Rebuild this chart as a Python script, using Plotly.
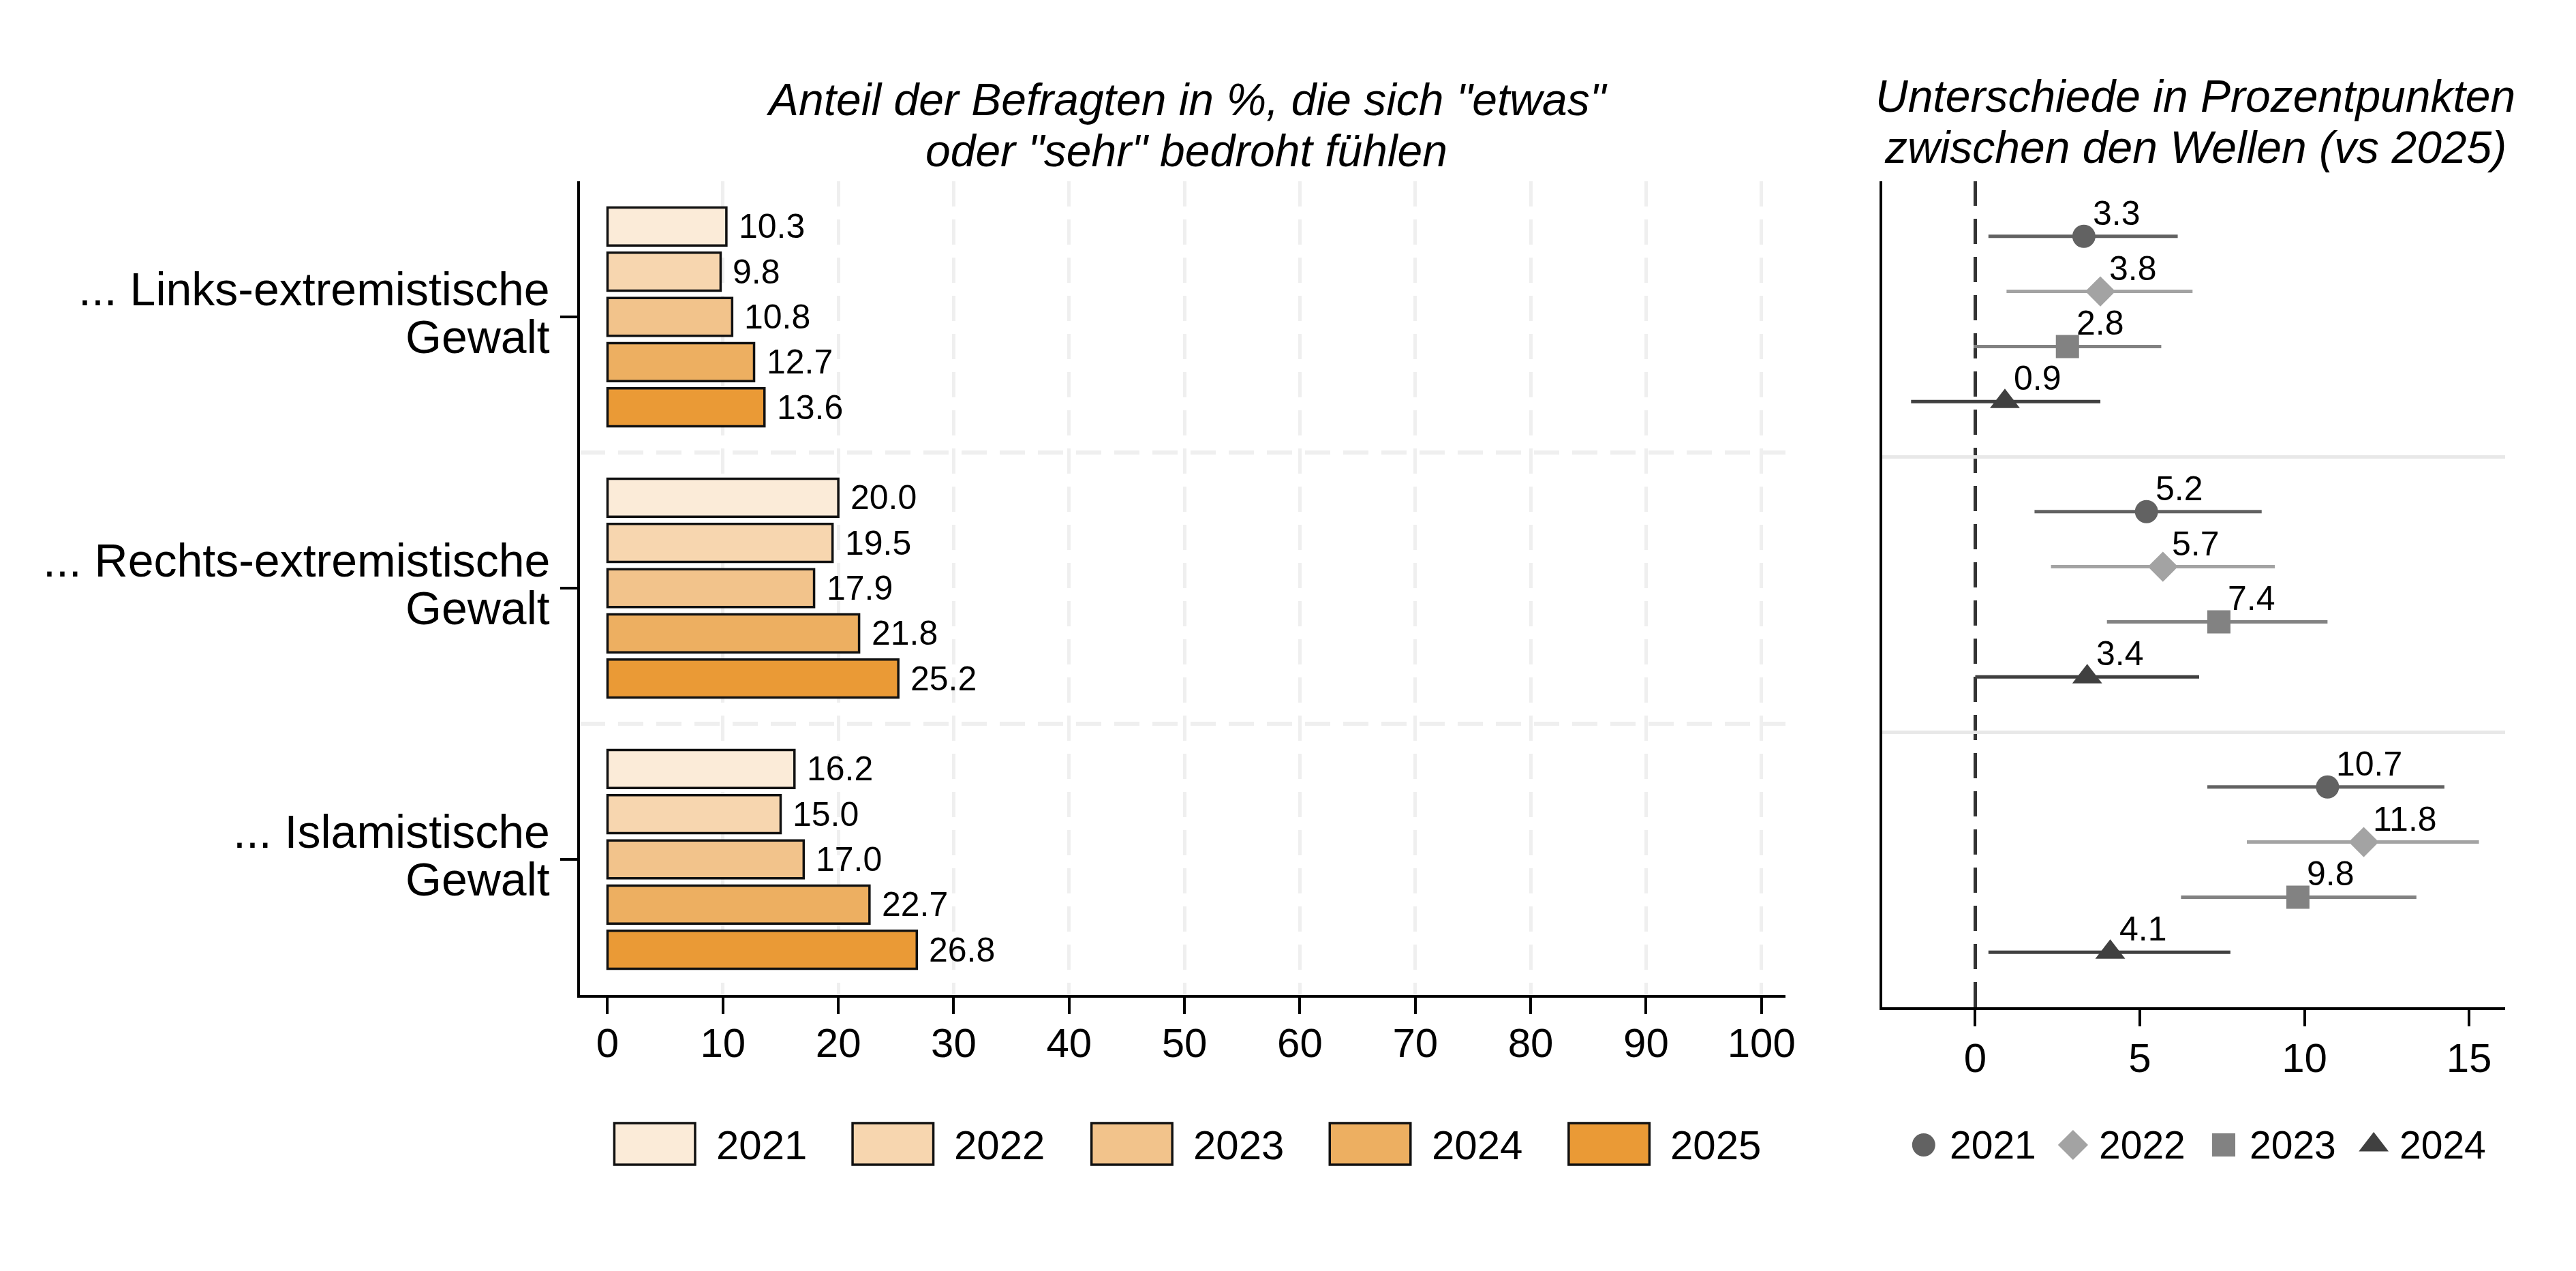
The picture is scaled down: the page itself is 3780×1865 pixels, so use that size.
import plotly.graph_objects as go
import numpy as np

W, H = 3780, 1865
OFF_Y = 8  # vertical page offset


def px(x):
    return x / W


def py(y):
    return 1 - (y - OFF_Y) / H


# ---------------- data ----------------
category_line1 = ["... Links-extremistische", "... Rechts-extremistische", "... Islamistische"]
category_line2 = ["Gewalt", "Gewalt", "Gewalt"]

bar_years = ["2021", "2022", "2023", "2024", "2025"]
share_2021 = [10.3, 20.0, 16.2]
share_2022 = [9.8, 19.5, 15.0]
share_2023 = [10.8, 17.9, 17.0]
share_2024 = [12.7, 21.8, 22.7]
share_2025 = [13.6, 25.2, 26.8]
shares = [share_2021, share_2022, share_2023, share_2024, share_2025]
bar_colors = ["#FBEBD8", "#F7D6AF", "#F2C38B", "#EDAF61", "#EA9A36"]

diff_years = ["2021", "2022", "2023", "2024"]
diff_2021 = [3.3, 5.2, 10.7]
lo_2021 = [0.4, 1.8, 7.05]
hi_2021 = [6.15, 8.7, 14.25]
diff_2022 = [3.8, 5.7, 11.8]
lo_2022 = [0.95, 2.3, 8.25]
hi_2022 = [6.6, 9.1, 15.3]
diff_2023 = [2.8, 7.4, 9.8]
lo_2023 = [-0.05, 4.0, 6.25]
hi_2023 = [5.65, 10.7, 13.4]
diff_2024 = [0.9, 3.4, 4.1]
lo_2024 = [-1.95, 0.0, 0.4]
hi_2024 = [3.8, 6.8, 7.75]
diffs = [diff_2021, diff_2022, diff_2023, diff_2024]
los = [lo_2021, lo_2022, lo_2023, lo_2024]
his = [hi_2021, hi_2022, hi_2023, hi_2024]
diff_symbols = ["circle", "diamond", "square", "triangle-up"]
diff_colors = ["#626262", "#A3A3A3", "#828282", "#404040"]
diff_sizes = [34, 34, 34, 38]

x_ticks_left = list(range(0, 101, 10))
x_ticks_right = [0, 5, 10, 15]

FONT = "Liberation Sans, Arial, Helvetica, sans-serif"

fig = go.Figure()

n_cat = len(category_line1)
slots_left = len(bar_years) + 1      # 5 bars + gap
slots_right = len(diff_years) + 1    # 4 points + gap
annotations = []

# ---------------- left: bars ----------------
for k, (yr, vals, col) in enumerate(zip(bar_years, shares, bar_colors)):
    pos = [slots_left * g + 1 + k for g in range(n_cat)]
    fig.add_trace(go.Bar(
        x=vals, y=pos, orientation="h", name=yr,
        marker=dict(color=col, line=dict(color="#111111", width=3.5)),
        width=0.84, xaxis="x", yaxis="y", showlegend=False,
    ))
    for v, p in zip(vals, pos):
        annotations.append(dict(
            x=v, y=p, xref="x", yref="y", text=f"{v:.1f}", showarrow=False,
            xanchor="left", yanchor="middle", xshift=16,
            font=dict(family=FONT, size=50, color="black"),
        ))

# ---------------- right: differences with CI ----------------
for k, (yr, d, lo, hi, sym, col, sz) in enumerate(
        zip(diff_years, diffs, los, his, diff_symbols, diff_colors, diff_sizes)):
    pos = [slots_right * g + 1 + k for g in range(n_cat)]
    d_arr, lo_arr, hi_arr = np.array(d), np.array(lo), np.array(hi)
    fig.add_trace(go.Scatter(
        x=d, y=pos, mode="markers", name=yr,
        marker=dict(symbol=sym, color=col, size=sz, opacity=1, line=dict(width=0)),
        error_x=dict(type="data", symmetric=False, array=hi_arr - d_arr,
                     arrayminus=d_arr - lo_arr, thickness=5, width=0, color=col),
        xaxis="x2", yaxis="y2", showlegend=False, cliponaxis=False,
    ))
    for v, p in zip(d, pos):
        annotations.append(dict(
            x=v, y=p, xref="x2", yref="y2", text=f"{v:.1f}", showarrow=False,
            xanchor="left", yanchor="middle", xshift=11, yshift=34,
            font=dict(family=FONT, size=50, color="black"),
        ))

# ---------------- category labels ----------------
for g in range(n_cat):
    ytick = slots_left * g + slots_left / 2
    annotations.append(dict(
        x=px(804), y=ytick, xref="paper", yref="y", text=category_line1[g],
        showarrow=False, xanchor="right", yanchor="middle", yshift=41,
        font=dict(family=FONT, size=68, color="black"),
    ))
    annotations.append(dict(
        x=px(804), y=ytick, xref="paper", yref="y", text=category_line2[g],
        showarrow=False, xanchor="right", yanchor="middle", yshift=-29,
        font=dict(family=FONT, size=68, color="black"),
    ))

# ---------------- titles ----------------
title_font = dict(family=FONT, size=66, color="black")
for txt, xc, yc in [
    ('Anteil der Befragten in %, die sich "etwas"', 1740, 146),
    ('oder "sehr" bedroht fühlen', 1740, 221),
    ("Unterschiede in Prozentpunkten", 3226, 141),
    ("zwischen den Wellen (vs 2025)", 3226, 216),
]:
    annotations.append(dict(
        x=px(xc), y=py(yc), xref="paper", yref="paper", text=f"<i>{txt}</i>",
        showarrow=False, xanchor="center", yanchor="middle", font=title_font,
    ))

# ---------------- left legend (custom swatches) ----------------
shapes = []
sw_left = [897, 1248, 1600, 1951, 2303]
for yr, col, xl in zip(bar_years, bar_colors, sw_left):
    shapes.append(dict(
        type="rect", xref="paper", yref="paper",
        x0=px(xl), x1=px(xl + 119), y0=py(1709), y1=py(1648),
        fillcolor=col, line=dict(color="#111111", width=3.5),
    ))
    annotations.append(dict(
        x=px(xl + 148), y=py(1680), xref="paper", yref="paper", text=yr,
        showarrow=False, xanchor="left", yanchor="middle",
        font=dict(family=FONT, size=60, color="black"),
    ))

# ---------------- right legend (markers on a pixel overlay axis) ----------------
leg_x = [2826, 3046, 3268, 3489]
fig.add_trace(go.Scatter(
    x=leg_x, y=[1680 - OFF_Y] * 4, mode="markers",
    marker=dict(symbol=diff_symbols, color=diff_colors, size=diff_sizes, opacity=1,
                line=dict(width=0)),
    xaxis="x3", yaxis="y3", showlegend=False, hoverinfo="skip",
))
for yr, xl in zip(diff_years, leg_x):
    annotations.append(dict(
        x=px(xl + 36), y=py(1680), xref="paper", yref="paper", text=yr,
        showarrow=False, xanchor="left", yanchor="middle",
        font=dict(family=FONT, size=57, color="black"),
    ))

# dashed zero line right panel
shapes.append(dict(
    type="line", xref="x2", yref="y2 domain", x0=0, x1=0, y0=0, y1=1,
    line=dict(color="#333333", width=5, dash="37px,19px"), layer="below",
))

tickfont = dict(family=FONT, size=60, color="black")
grid_col = "#EFEFEF"

fig.update_layout(
    width=W, height=H, autosize=False,
    margin=dict(l=0, r=0, t=0, b=0),
    paper_bgcolor="white", plot_bgcolor="rgba(0,0,0,0)",
    barmode="overlay", showlegend=False,
    font=dict(family=FONT, color="black"),
    annotations=annotations, shapes=shapes,
    xaxis=dict(
        domain=[px(846), px(2622)], range=[(846 - 887) / 17, (2622 - 887) / 17],
        anchor="y", tickmode="array", tickvals=x_ticks_left,
        ticks="outside", ticklen=24, tickwidth=4, tickcolor="black",
        ticklabelstandoff=-9,
        showline=True, linecolor="black", linewidth=4,
        showgrid=False, zeroline=False, tickfont=tickfont,
        minor=dict(tickmode="array", tickvals=x_ticks_left[1:], ticks="",
                   showgrid=True, gridcolor=grid_col, gridwidth=5, griddash="37px,19px"),
    ),
    yaxis=dict(
        domain=[py(1460), py(266)], range=[slots_left * n_cat, 0],
        anchor="x", tickmode="array",
        tickvals=[slots_left * g + slots_left / 2 for g in range(n_cat)],
        showticklabels=False, ticks="outside", ticklen=25, tickwidth=4, tickcolor="black",
        showline=True, linecolor="black", linewidth=4,
        showgrid=False, zeroline=False,
        minor=dict(tickmode="array", tickvals=[slots_left * g for g in range(1, n_cat)],
                   ticks="", showgrid=True, gridcolor=grid_col, gridwidth=6,
                   griddash="37px,19px"),
    ),
    xaxis2=dict(
        domain=[px(2765), px(3683)], range=[(2765 - 2902) / 48.5, (3683 - 2902) / 48.5],
        anchor="y2", tickmode="array", tickvals=x_ticks_right,
        ticks="outside", ticklen=24, tickwidth=4, tickcolor="black",
        ticklabelstandoff=-5,
        showline=True, linecolor="black", linewidth=4,
        showgrid=False, zeroline=False, tickfont=tickfont,
    ),
    yaxis2=dict(
        domain=[py(1478), py(266)], range=[slots_right * n_cat, 0],
        anchor="x2", tickmode="array",
        tickvals=[slots_right * g for g in range(1, n_cat)],
        showticklabels=False, ticks="",
        showline=True, linecolor="black", linewidth=4,
        showgrid=True, gridcolor="#E8E8E8", gridwidth=5, zeroline=False,
    ),
    xaxis3=dict(domain=[px(2780), px(3700)], range=[2780, 3700], visible=False,
                anchor="y3", fixedrange=True),
    yaxis3=dict(domain=[py(1730), py(1630)], range=[1730 - OFF_Y, 1630 - OFF_Y], visible=False,
                anchor="x3", fixedrange=True),
)

fig.write_html("out.html")
